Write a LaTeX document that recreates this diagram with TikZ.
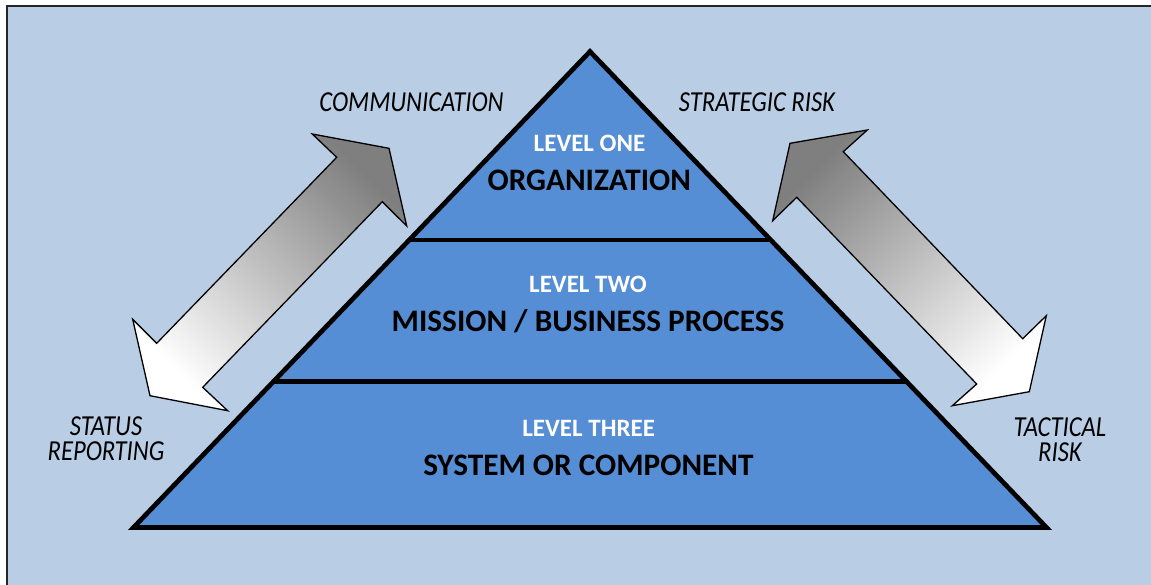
\documentclass[tikz,border=0pt]{standalone}
\usepackage{fontspec}
\setmainfont{Carlito}
\newfontfamily\lblfont[FakeStretch=0.85]{Carlito}
\definecolor{bgblue}{HTML}{B9CDE5}
\definecolor{pyrblue}{HTML}{558ED5}
\definecolor{arrgray}{HTML}{7F7F7F}
\begin{document}
\begin{tikzpicture}[x=1pt,y=-1pt,
  lvl/.style={font=\bfseries\fontsize{25}{28}\selectfont, text=white, inner sep=0pt, anchor=base},
  tier/.style={font=\bfseries\fontsize{31.3}{34}\selectfont, text=black, inner sep=0pt, anchor=base},
  side/.style={font=\lblfont\itshape\fontsize{29}{24.5}\selectfont, inner sep=0pt, align=center},
  arr/.style={draw=black, line width=1.3pt, line join=miter},
  edge/.style={draw=black, line width=4.7pt, line join=miter}
]
\useasboundingbox (0,0) rectangle (1151,584);
\fill[white] (0,0) rectangle (1151,584);
\draw[fill=bgblue, line width=2pt, draw=black!85] (7,6) rectangle (1170,600);
% pyramid
\coordinate (apex) at (590,51.5);
\coordinate (bl) at (133.5,527.5);
\coordinate (br) at (1046.5,527.5);
\coordinate (d1l) at (409.2,240);
\coordinate (d1r) at (770.8,240);
\coordinate (d2l) at (273.5,381.5);
\coordinate (d2r) at (906.5,381.5);
\filldraw[fill=pyrblue, edge] (apex) -- (br) -- (bl) -- cycle;
\draw[edge] (d1l) -- (d1r);
\draw[edge] (d2l) -- (d2r);
% arrows
\draw[arr, top color=arrgray, bottom color=white, shading angle=-45]
  (312.3,134) -- (389,148.3) -- (406.7,226) -- (382.3,201.7) -- (202.7,387.3)
  -- (227.7,410.7) -- (150,395.7) -- (132.7,319.3) -- (156.7,343.3) -- (336.7,157.3) -- cycle;
\draw[arr, top color=arrgray, bottom color=white, shading angle=45]
  (790,143.3) -- (867.3,130) -- (843.3,151.7) -- (1022.7,338.7) -- (1046.3,315.7)
  -- (1029.3,391.7) -- (952.3,405.7) -- (976.7,384) -- (796.7,197.3) -- (772.7,220.7) -- cycle;
% texts
\node[lvl] (l1) at (589.5,151.5) {LEVEL ONE};
\node[tier] (t1) at (589.3,190) {ORGANIZATION};
\node[lvl] (l2) at (588,292.7) {LEVEL TWO};
\node[tier] (t2) at (588,331.7) {MISSION / BUSINESS PROCESS};
\node[lvl] (l3) at (588.7,436.7) {LEVEL THREE};
\node[tier] (t3) at (588.4,475) {SYSTEM OR COMPONENT};
\node[side, anchor=base] (comm) at (411.5,111.5) {COMMUNICATION};
\node[side, anchor=base] (strat) at (757,111.5) {STRATEGIC RISK};
\node[side, anchor=base] (stat) at (106,460) {STATUS\\REPORTING};
\node[side, anchor=base] (tact) at (1060,461) {TACTICAL\\RISK};
\end{tikzpicture}
\end{document}
